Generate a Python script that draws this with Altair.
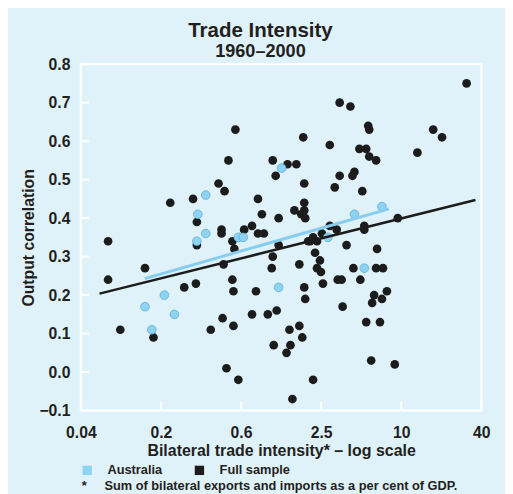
import altair as alt
import pandas as pd
import math

# Full sample (black) points: bilateral trade intensity (log), output correlation
full_x = [0.064, 0.064, 0.079, 0.121, 0.140, 0.187, 0.238, 0.277, 0.296, 0.296,
          0.291, 0.376, 0.430, 0.477, 0.510, 0.575, 0.453, 0.453, 0.461, 0.469,
          0.546, 0.565, 0.546, 0.556, 0.556, 0.493, 0.605, 0.669, 0.766, 0.849,
          0.940, 0.766, 0.820, 0.849, 0.908, 1.212, 1.095, 1.413, 1.646, 1.152,
          1.853, 1.885, 1.885, 1.591, 1.792, 1.885, 1.918, 1.212, 1.095, 1.076,
          1.732, 2.272, 2.472, 2.350, 2.515, 1.885, 1.918, 2.602, 3.357, 3.592,
          3.654, 1.006, 1.172, 1.461, 1.732, 1.822, 1.486, 1.114, 1.389, 2.196,
          1.537, 3.473, 4.18, 2.930, 3.473, 3.190, 4.48, 4.33, 5.13, 5.68,
          5.78, 4.88, 5.49, 5.78, 6.51, 13.27, 17.42, 20.29, 31.0, 9.46,
          5.31, 5.31, 2.930, 3.300, 2.558, 2.196, 2.017, 3.910, 6.62, 4.40,
          6.51, 7.33, 4.96, 6.29, 7.84, 7.20, 6.08, 5.49, 6.96, 5.98,
          8.98, 2.087, 2.350]
full_y = [0.34, 0.24, 0.11, 0.27, 0.09, 0.44, 0.22, 0.45, 0.39, 0.33,
          0.23, 0.11, 0.49, 0.47, 0.55, 0.63, 0.37, 0.36, 0.14, 0.28,
          0.34, 0.32, 0.24, 0.21, 0.12, 0.01, -0.02, 0.37, 0.38, 0.36,
          0.36, 0.15, 0.21, 0.45, 0.41, 0.40, 0.55, 0.54, 0.54, 0.51,
          0.61, 0.49, 0.44, 0.42, 0.41, 0.42, 0.40, 0.33, 0.30, 0.27,
          0.28, 0.31, 0.29, 0.27, 0.26, 0.22, 0.19, 0.23, 0.24, 0.24,
          0.17, 0.15, 0.16, 0.11, 0.12, 0.09, 0.07, 0.07, 0.05, -0.02,
          -0.07, 0.70, 0.69, 0.59, 0.51, 0.48, 0.52, 0.51, 0.47, 0.64,
          0.63, 0.58, 0.58, 0.56, 0.55, 0.57, 0.63, 0.61, 0.75, 0.40,
          0.38, 0.37, 0.38, 0.37, 0.36, 0.35, 0.34, 0.33, 0.32, 0.27,
          0.27, 0.27, 0.24, 0.20, 0.21, 0.19, 0.18, 0.13, 0.13, 0.03,
          0.02, 0.34, 0.34]

# Australia (light blue) points
aus_x = [0.345, 0.301, 0.345, 0.296, 0.605, 0.658, 1.276, 2.833, 4.48, 7.20,
         5.31, 1.212, 0.169, 0.121, 0.201, 0.136]
aus_y = [0.46, 0.41, 0.36, 0.34, 0.35, 0.35, 0.53, 0.35, 0.41, 0.43,
         0.27, 0.22, 0.20, 0.17, 0.15, 0.11]

# Fitted lines (end points)
full_line_x = [0.0552, 36.1]
full_line_y = [0.204, 0.447]
aus_line_x = [0.1206, 8.11]
aus_line_y = [0.243, 0.424]

# Axes
x_tick_values = [0.04, 0.15924, 0.6340, 2.524, 10.048, 40.0]
x_tick_labels = ["0.04", "0.2", "0.6", "2.5", "10", "40"]
y_tick_values = [-0.1, 0.0, 0.1, 0.2, 0.3, 0.4, 0.5, 0.6, 0.7, 0.8]

series_names = ["Australia", "Full sample"]
series_colors = ["#8fd3f3", "#1c1c1c"]

FONT = "Liberation Sans"
TXT = "#231f20"
BG = "#dff2fa"

W, H = 407, 352

pts = pd.DataFrame({
    "x": full_x + aus_x,
    "y": full_y + aus_y,
    "series": ["Full sample"] * len(full_x) + ["Australia"] * len(aus_x),
})

# label expression built from tick arrays
expr = "'" + x_tick_labels[-1] + "'"
for i in range(len(x_tick_values) - 2, -1, -1):
    mid = math.sqrt(x_tick_values[i] * x_tick_values[i + 1])
    expr = f"datum.value < {mid} ? '{x_tick_labels[i]}' : ({expr})"

xscale = alt.Scale(type="log", domain=[x_tick_values[0], x_tick_values[-1]], nice=False)
yscale = alt.Scale(domain=[y_tick_values[0], y_tick_values[-1]], nice=False, zero=False)

xaxis = alt.Axis(values=x_tick_values, labelExpr=expr, ticks=False, domain=False, grid=False,
                 labelPadding=14, labelFontSize=16, labelFont=FONT, labelFontWeight="bold",
                 labelColor=TXT, title="Bilateral trade intensity* \u2013 log scale",
                 titleFontSize=16.2, titleFont=FONT, titleFontWeight="bold", titleColor=TXT,
                 titlePadding=3, labelFlush=False, labelOverlap=False)
yaxis = alt.Axis(values=y_tick_values, format=".1f", ticks=False, domain=False, grid=False,
                 labelPadding=11, labelFontSize=16, labelFont=FONT, labelFontWeight="bold",
                 labelColor=TXT, title="Output correlation", titleFontSize=16, titleFont=FONT,
                 titleFontWeight="bold", titleColor=TXT, titlePadding=3, labelFlush=False,
                 labelOverlap=False)

color = alt.Color("series:N", scale=alt.Scale(domain=series_names, range=series_colors),
                  legend=alt.Legend(title=None, orient="none", legendX=0, legendY=406,
                                    direction="horizontal", symbolType="square", symbolSize=90,
                                    symbolStrokeWidth=0, labelFont=FONT, labelFontWeight="bold",
                                    labelFontSize=13, labelColor=TXT, labelOffset=14,
                                    columnPadding=31, padding=0))

X = alt.X("x:Q", scale=xscale, axis=xaxis)
Y = alt.Y("y:Q", scale=yscale, axis=yaxis)

base = alt.Chart(pts).encode(x=X, y=Y, color=color)

black_pts = base.transform_filter(alt.datum.series == "Full sample").mark_circle(
    size=78, opacity=1)
blue_pts = base.transform_filter(alt.datum.series == "Australia").mark_point(
    shape="circle", filled=True, size=78, opacity=1, stroke="#5aaed4", strokeWidth=0.8)

full_line = alt.Chart(pd.DataFrame({"x": full_line_x, "y": full_line_y})).mark_line(
    color="#1c1c1c", strokeWidth=2.5).encode(x=X, y=Y)
aus_line = alt.Chart(pd.DataFrame({"x": aus_line_x, "y": aus_line_y})).mark_line(
    color="#87cdef", strokeWidth=3).encode(x=X, y=Y)

ytick_rules = alt.Chart(pd.DataFrame({"y": y_tick_values})).mark_rule(
    color="white", strokeWidth=2).encode(y=Y, x=alt.value(0), x2=alt.value(8))
xtick_rules = alt.Chart(pd.DataFrame({"x": x_tick_values})).mark_rule(
    color="white", strokeWidth=2).encode(x=X, y=alt.value(H), y2=alt.value(H - 9))

foot_star = alt.Chart(pd.DataFrame({"t": ["*"]})).mark_text(
    font=FONT, fontWeight="bold", fontSize=13, color=TXT, align="left", baseline="alphabetic"
).encode(x=alt.value(1), y=alt.value(433), text="t:N")
foot_text = alt.Chart(pd.DataFrame({"t": ["Sum of bilateral exports and imports as a per cent of GDP."]})).mark_text(
    font=FONT, fontWeight="bold", fontSize=13, color=TXT, align="left", baseline="alphabetic"
).encode(x=alt.value(24), y=alt.value(433), text="t:N")

chart = alt.layer(
    ytick_rules, xtick_rules, black_pts, blue_pts, aus_line, full_line, foot_star, foot_text
).properties(
    width=W, height=H,
    autosize=alt.AutoSizeParams(type="none"),
    padding={"left": 74, "top": 53, "right": 24, "bottom": 100},
    background=BG,
    title=alt.TitleParams(text="Trade Intensity", subtitle="1960\u20132000", anchor="middle",
                          dx=-21, fontSize=20.8, subtitleFontSize=18.4, font=FONT,
                          subtitleFont=FONT, fontWeight="bold", subtitleFontWeight="bold",
                          color=TXT, subtitleColor=TXT, subtitlePadding=0, offset=-5),
).configure_view(stroke="white", strokeWidth=2)

chart.save("out.html", embed_options={"renderer": "svg", "actions": False})
